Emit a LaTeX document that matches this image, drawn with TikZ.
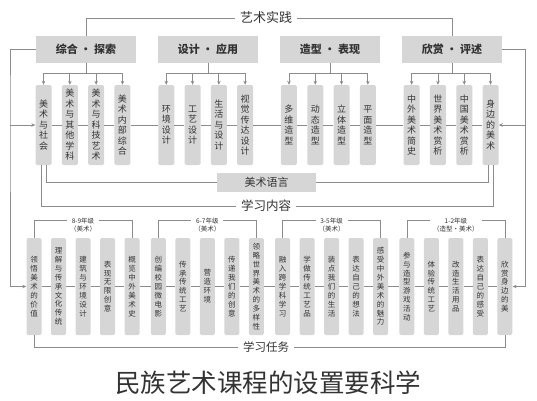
\documentclass[tikz,border=0pt]{standalone}
\usepackage{fontspec}
\setmainfont{Noto Sans CJK SC}
\usetikzlibrary{arrows.meta}
\usetikzlibrary{positioning}
\definecolor{boxgray}{HTML}{D6D6D6}
\definecolor{linegray}{HTML}{8C8C8C}
\definecolor{txtgray}{HTML}{333333}

% one character per line
\makeatletter
\newcommand\vstack[1]{%
    \edef\vs@list{#1}%
    \let\vs@sep\relax
    \expandafter\@tfor\expandafter\vs@c\expandafter:\expandafter=\vs@list\do{\vs@sep\vs@c\let\vs@sep\\}}
\makeatother

\begin{document}
\begin{tikzpicture}[x=1pt, y=-1pt,
        area/.style={rectangle, fill=boxgray, text=txtgray, minimum width=100pt, minimum height=27pt, inner sep=0, font=\fontsize{11}{12}\selectfont\bfseries},
        langbox/.style={rectangle, fill=boxgray, text=txtgray, minimum width=99pt, minimum height=19pt, inner sep=0, font=\fontsize{11}{12}\selectfont},
        topcol/.style={rectangle, rounded corners=1.5pt, fill=boxgray, text=txtgray, minimum width=16pt, minimum height=80pt, inner sep=0, text width=12pt, align=center, font=\fontsize{9}{10.5}\selectfont},
        taskcol/.style={rectangle, rounded corners=1.5pt, fill=boxgray, text=txtgray, minimum width=15pt, minimum height=97pt, inner sep=0, text width=12pt, align=center, font=\fontsize{7.5}{8.9}\selectfont},
        title/.style={fill=white, text=txtgray, inner xsep=5pt, inner ysep=1pt},
        grade/.style={fill=white, text=txtgray, align=center, inner xsep=3pt, inner ysep=0.5pt, font=\fontsize{6.5}{8}\selectfont},
        line/.style={draw=linegray, line width=0.8pt},
        arr/.style={line, -{Stealth[length=4pt, width=3.5pt]}}
    ]
        \useasboundingbox (0,0) rectangle (537,400);

        % Top areas
        \foreach \name [count=\i] in {综合 · 探索, 设计 · 应用, 造型 · 表现, 欣赏 · 评述} {
            \pgfmathsetmacro{\x}{86 + (\i - 1) * 122}
            \node[area] (area-\i) at (\x, 49.5) {\name};
        }

        % Learning contents
        \foreach \t [count=\i] in {美术与社会, 美术与其他学科, 美术与科技艺术, 美术内部综合,
                                   环境设计, 工艺设计, 生活与设计, 视觉传达设计,
                                   多维造型, 动态造型, 立体造型, 平面造型,
                                   中外美术简史, 世界美术赏析, 中国美术赏析, 身边的美术} {
            \pgfmathsetmacro{\x}{83 + int((\i - 1) / 4) * 122.7 + (mod(\i - 1, 4) - 1.5) * 26.3}
            \node[topcol] (topic-\i) at (\x, 125) {\vstack{\t}};
        }

        % Learning tasks
        \foreach \t [count=\i] in {领悟美术的价值, 理解与传承文化传统, 建筑与环境设计, 表现无限创意, 概览中外美术史,
                                   创编校园微电影, 传承传统工艺, 营造环境, 传递我们的创意, 领略世界美术的多样性,
                                   融入跨学科学习, 学做传统工艺品, 装点我们的生活, 表达自己的想法, 感受中外美术的魅力,
                                   参与造型游戏活动, 体验传统工艺, 改造生活用品, 表达自己的感受, 欣赏身边的美} {
            \pgfmathsetmacro{\x}{34 + int((\i - 1) / 5) * 124.3 + mod(\i - 1, 5) * 24.5}
            \node[taskcol] (task-\i) at (\x, 286.5) {\vstack{\t}};
        }

        % Grade labels
        \foreach \g/\grd/\sub in {0/8-9年级/（美术）, 1/6-7年级/（美术）, 2/3-5年级/（美术）, 3/1-2年级/（造型·美术）} {
            \pgfmathsetmacro{\gx}{34 + \g * 124.3 + 2 * 24.5}
            \pgfmathtruncatemacro{\a}{\g * 5 + 1}
            \pgfmathtruncatemacro{\b}{\g * 5 + 5}
            \draw[line] (task-\a.north) -- ++(0,-17) -| (task-\b.north);
            \node[grade] (grade-\g) at (\gx, 225) {\grd\\\sub};
        }

        % Area → contents
        \foreach \g in {1,...,4} {
            \pgfmathtruncatemacro{\a}{(\g - 1) * 4 + 1}
            \pgfmathtruncatemacro{\b}{(\g - 1) * 4 + 4}
            \draw[line] (area-\g.south) -- (area-\g.south |- 0,73);
            \draw[line] (topic-\a.north |- 0,73) -- (topic-\b.north |- 0,73);
            \foreach \i in {\a,...,\b} {
                \draw[arr] (topic-\i.north |- 0,73) -- (topic-\i.north);
            }
        }

        % Through lines
        \foreach \i [evaluate=\i as \n using int(\i + 1)] in {1,...,15} {
            \draw[line] (topic-\i.east) -- (topic-\n.west);
        }
        \foreach \i [evaluate=\i as \n using int(\i + 1)] in {1,...,19} {
            \draw[line] (task-\i.east) -- (task-\n.west);
        }

        % Outer frame
        \coordinate (frame-l) at (10, 100);
        \coordinate (frame-r) at (525, 100);
        \draw[arr] (area-1.west) -| (frame-l) |- (task-1.west);
        \draw[arr] (frame-l |- topic-1.west) -- (topic-1.west);
        \draw[arr] (area-4.east) -| (frame-r) |- (task-20.east);
        \draw[arr] (frame-r |- topic-16.east) -- (topic-16.east);

        % Titles
        \node[title, font=\fontsize{13}{14}\selectfont] (practice) at (266, 18) {艺术实践};
        \draw[line] (area-1.north) |- (practice.west);
        \draw[line] (practice.east) -| (area-4.north);

        \node[langbox] (lang) at (266.5, 182.5) {美术语言};
        \draw[line] ([xshift=2.5pt]topic-1.south) |- (lang.west);
        \draw[line] (lang.east) -| ([xshift=-2.5pt]topic-16.south);

        \node[title, font=\fontsize{12.5}{13}\selectfont] (content) at (266, 206) {学习内容};
        \draw[line] ([xshift=-2.5pt]topic-1.south) |- (content.west);
        \draw[line] (content.east) -| ([xshift=2.5pt]topic-16.south);

        \node[title, font=\fontsize{11.5}{12}\selectfont] (tasks) at (266, 347) {学习任务};
        \draw[line] (task-1.south) |- (tasks.west);
        \draw[line] (tasks.east) -| (task-20.south);

        % Caption
        \node[text=black!80, font=\fontsize{25.5}{27}\selectfont] (caption) at (268, 383) {民族艺术课程的设置要科学};

    \end{tikzpicture}
\end{document}
